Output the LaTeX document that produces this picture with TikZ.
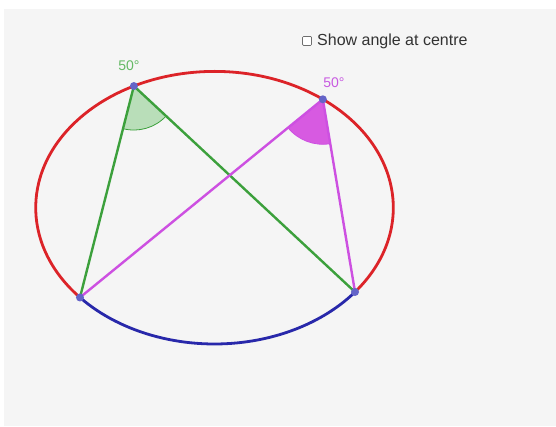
\documentclass[tikz,border=0pt]{standalone}
\usepackage{fontspec}
\setmainfont{Liberation Sans}
\usetikzlibrary{angles}
\definecolor{panel}{RGB}{245,245,245}
\definecolor{circred}{RGB}{220,35,40}
\definecolor{arcblue}{RGB}{40,40,170}
\definecolor{chordgreen}{RGB}{60,160,60}
\definecolor{wedgegreen}{RGB}{185,222,185}
\definecolor{labelgreen}{RGB}{100,185,100}
\definecolor{chordmag}{RGB}{205,80,225}
\definecolor{wedgemag}{RGB}{215,90,225}
\definecolor{labelmag}{RGB}{200,90,225}
\definecolor{dotcol}{RGB}{100,100,200}
\definecolor{boxgray}{RGB}{110,110,110}
\definecolor{textgray}{RGB}{50,50,50}
\tikzset{
  rim/.style={line width=2.8pt},
  chord/.style={line width=2.4pt},
  ptdot/.style={circle, fill=dotcol, inner sep=0pt, minimum size=8pt},
  anglabel/.style={font=\fontsize{14}{16}\selectfont, inner sep=0pt}
}
\begin{document}
\begin{tikzpicture}[x=1pt,y=1pt]
\useasboundingbox (0,0) rectangle (556,426);
\fill[white] (0,0) rectangle (556,426);
\fill[panel] (4,0) rectangle (556,417);
\coordinate (O) at (214.5,218.3);
\coordinate (A) at ([shift={(116.8:178.8pt and 136.3pt)}]O);
\coordinate (B) at ([shift={(52.7:178.8pt and 136.3pt)}]O);
\coordinate (C) at ([shift={(221.2:178.8pt and 136.3pt)}]O);
\coordinate (D) at ([shift={(321.8:178.8pt and 136.3pt)}]O);
% circle arcs
\draw[rim, circred] (D) arc[start angle=321.8, end angle=581.2, x radius=178.8pt, y radius=136.3pt];
\draw[rim, arcblue] (C) arc[start angle=221.2, end angle=321.8, x radius=178.8pt, y radius=136.3pt];
% angle wedges
\pic[draw=chordgreen, fill=wedgegreen, line width=0.8pt, angle radius=44pt] {angle=C--A--D};
\pic[draw=chordmag, fill=wedgemag, line width=0.8pt, angle radius=45pt] {angle=C--B--D};
% chords
\draw[chord, chordgreen] (A) -- (C);
\draw[chord, chordgreen] (A) -- (D);
\draw[chord, chordmag] (B) -- (C);
\draw[chord, chordmag] (B) -- (D);
% points
\node[ptdot] (pA) at (A) {};
\node[ptdot] (pB) at (B) {};
\node[ptdot] (pC) at (C) {};
\node[ptdot] (pD) at (D) {};
% labels
\node[anglabel, text=labelgreen] (lA) at (129,360) {50°};
\node[anglabel, text=labelmag] (lB) at (334,343) {50°};
% checkbox
\node[draw=boxgray, fill=white, line width=0.7pt, minimum size=9pt, inner sep=0pt, rounded corners=1pt] (cb) at (307,385) {};
\node[anchor=west, text=textgray, font=\fontsize{16}{18}\selectfont, inner sep=0pt] (cbt) at (317,385) {Show angle at centre};
\end{tikzpicture}
\end{document}
